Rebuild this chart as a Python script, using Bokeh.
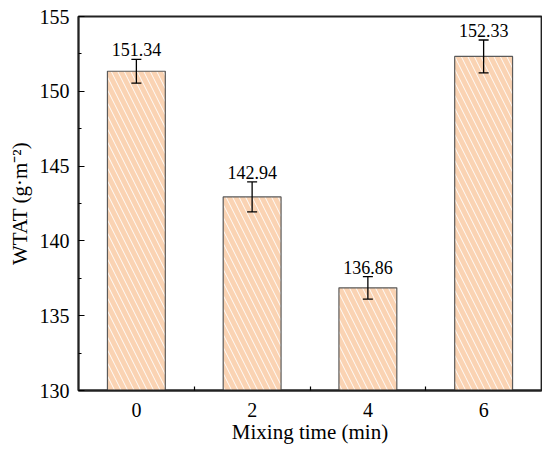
from bokeh.plotting import figure
from bokeh.models import ColumnDataSource, Whisker, FixedTicker, Range1d, TeeHead
from bokeh.embed import file_html
from bokeh.resources import INLINE
from bokeh.core.properties import value

# data
mixing_time = [0, 2, 4, 6]
wtat = [151.34, 142.94, 136.86, 152.33]
err = [0.80, 1.00, 0.75, 1.10]
labels = ["151.34", "142.94", "136.86", "152.33"]
x_ticks = [0, 2, 4, 6]
y_ticks = [130, 135, 140, 145, 150, 155]
y_min, y_max = 130, 155

FONT = "Liberation Serif"

src = ColumnDataSource(dict(
    x=mixing_time,
    top=wtat,
    upper=[v + e for v, e in zip(wtat, err)],
    lower=[v - e for v, e in zip(wtat, err)],
    label=labels,
))

p = figure(frame_width=463, frame_height=374, output_backend="svg",
           toolbar_location=None, x_range=Range1d(-1, 7),
           y_range=Range1d(y_min, y_max),
           min_border_left=78, min_border_right=1, min_border_top=16,
           min_border_bottom=55)
p.background_fill_color = "white"
p.border_fill_color = "white"
p.outline_line_color = "#222222"
p.outline_line_width = 1.8
p.grid.visible = False

p.vbar(x="x", top="top", bottom=y_min - 5, width=1.0, source=src,
       fill_color="#FAD3B3", line_color="#5a5a5a", line_width=1.2,
       hatch_pattern="\\", hatch_color="white", hatch_scale=13,
       hatch_weight=1.0, hatch_alpha=0.9)

w = Whisker(source=src, base="x", upper="upper", lower="lower",
            line_color="black", line_width=1.3, level="overlay",
            upper_head=TeeHead(size=10, line_color="black", line_width=1.3),
            lower_head=TeeHead(size=10, line_color="black", line_width=1.3))
p.add_layout(w)

p.text(x="x", y="upper", text="label", source=src, text_align="center",
       text_baseline="bottom", y_offset=-3, text_font=value(FONT),
       text_font_size="18px", text_color="black")

xa = p.xaxis[0]
xa.ticker = FixedTicker(ticks=x_ticks, minor_ticks=[1, 3, 5])
ya = p.yaxis[0]
ya.ticker = FixedTicker(ticks=y_ticks, minor_ticks=[132.5, 137.5, 142.5, 147.5, 152.5])

for ax in (xa, ya):
    ax.axis_line_color = "#222222"
    ax.axis_line_width = 1.8
    ax.major_tick_line_color = "black"
    ax.minor_tick_line_color = "black"
    ax.major_tick_line_width = 1.2
    ax.minor_tick_line_width = 1.2
    ax.major_tick_out = 0
    ax.minor_tick_out = 0
    ax.major_label_text_font = FONT
    ax.major_label_text_font_size = "20px"
    ax.major_label_text_color = "black"
    ax.axis_label_text_font = FONT
    ax.axis_label_text_font_size = "21px"
    ax.axis_label_text_font_style = "normal"
    ax.axis_label_text_color = "black"

xa.major_tick_in = 0
xa.minor_tick_in = 4
xa.major_label_standoff = 12
xa.axis_label = "Mixing time (min)"
xa.axis_label_standoff = 0

ya.major_tick_in = 6
ya.minor_tick_in = 3
ya.major_label_standoff = 9
ya.axis_label = "WTAT (g·m⁻²)"
ya.axis_label_standoff = 5

open("out.html", "w").write(file_html(p, INLINE))
